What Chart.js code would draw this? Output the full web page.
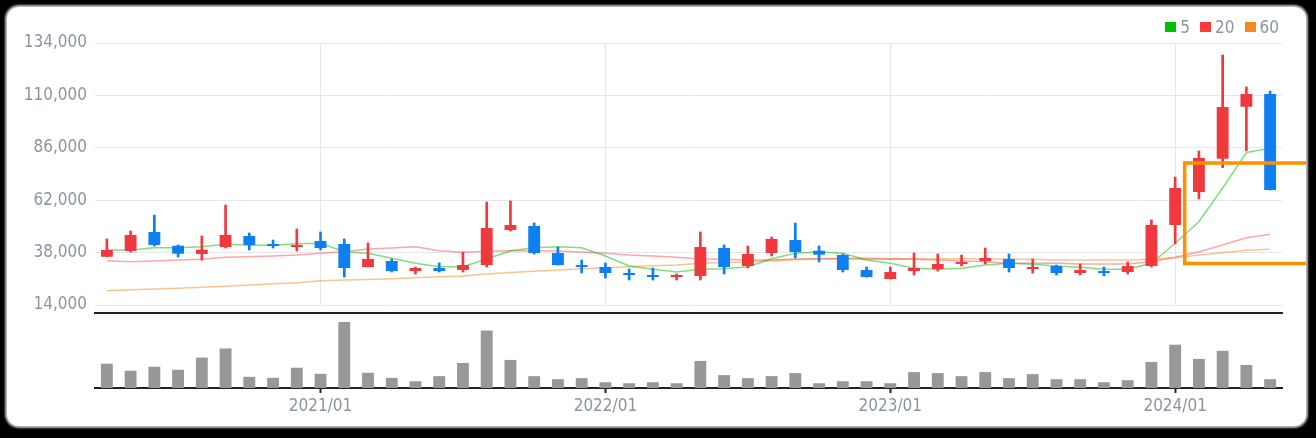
<!DOCTYPE html>
<html>
<head>
<meta charset="utf-8">
<script src="https://cdn.jsdelivr.net/npm/chart.js@4.4.1/dist/chart.umd.min.js"></script>
<style>
  html, body { margin: 0; padding: 0; background: #000; width: 1316px; height: 438px; overflow: hidden; }
  #card { position: absolute; left: 7px; top: 7px; width: 1299px; height: 419px; background: #fff;
          border-radius: 12px; overflow: hidden; box-shadow: 0 0 2px 2px #bbb; }
  #priceCanvas { position: absolute; left: -7px; top: -7px; }
  #volumeCanvas { position: absolute; left: -7px; top: 293px; }
  #legend { position: absolute; right: 27px; top: 10px; height: 20px; display: flex; align-items: center;
            font: 17px 'DejaVu Sans Condensed', 'DejaVu Sans', sans-serif; color: #8b95a1; }
  #legend .item { display: flex; align-items: center; margin-left: 10px; }
  #legend .box { width: 11px; height: 10px; margin-right: 4px; }
</style>
</head>
<body>
<div id="card">
  <canvas id="priceCanvas" width="1316" height="324"></canvas>
  <canvas id="volumeCanvas" width="1316" height="126"></canvas>
  <div id="legend"></div>
</div>
<script>
// monthly candles, 2020/04 - 2024/05
const months = [
  '2020/04','2020/05','2020/06','2020/07','2020/08','2020/09','2020/10','2020/11','2020/12',
  '2021/01','2021/02','2021/03','2021/04','2021/05','2021/06','2021/07','2021/08','2021/09','2021/10','2021/11','2021/12',
  '2022/01','2022/02','2022/03','2022/04','2022/05','2022/06','2022/07','2022/08','2022/09','2022/10','2022/11','2022/12',
  '2023/01','2023/02','2023/03','2023/04','2023/05','2023/06','2023/07','2023/08','2023/09','2023/10','2023/11','2023/12',
  '2024/01','2024/02','2024/03','2024/04','2024/05'
];
const open = [36100, 38750, 47450, 41150, 37350, 40550, 45600, 41950, 40550, 43300,
  41950, 31400, 34150, 29550, 30950, 30050, 32300, 48350, 50200, 37800,
  32300, 31400, 28650, 27750, 26800, 27300, 40100, 31850, 37800, 43750,
  38850, 36900, 30050, 25900, 29550, 30500, 32800, 34150, 35050, 30500,
  31850, 28650, 29550, 29100, 31850, 50650, 65750, 81000, 104800, 110650];
const close = [39200, 46050, 41500, 37500, 39350, 46050, 41500, 41000, 41500, 40100,
  30950, 35050, 29550, 30950, 29550, 32300, 49250, 50650, 37800, 32300,
  31400, 28650, 27750, 26800, 27750, 40550, 31400, 37350, 44250, 38250,
  37050, 30050, 26800, 29100, 30950, 32800, 33700, 35550, 30950, 31400,
  28650, 30050, 28650, 31850, 50650, 67600, 81350, 104700, 110650, 66650];
const high = [44250, 47900, 55200, 41500, 45600, 59800, 47000, 43750, 48800, 47450,
  44250, 42400, 35050, 31400, 33250, 38250, 61150, 61650, 51550, 40550,
  34600, 33250, 30500, 30950, 28200, 47450, 41500, 41000, 45150, 51550,
  41000, 37350, 31400, 31400, 37800, 37350, 36900, 40100, 37350, 35050,
  32300, 32800, 31400, 33700, 52950, 72600, 84550, 128500, 113850, 112000];
const low = [36100, 38250, 41000, 36000, 34600, 40100, 39200, 40100, 38750, 39200,
  26800, 31400, 29100, 28200, 29100, 29100, 31400, 47900, 37350, 32300,
  28650, 26350, 25450, 25450, 25450, 25450, 28200, 30950, 36450, 35550,
  33700, 29100, 26800, 25900, 27750, 29550, 31850, 32800, 29100, 28650,
  27750, 27750, 27300, 28200, 31400, 41950, 62550, 76900, 84650, 66650];
// volume, thousand shares
const volume = [2400, 1700, 2100, 1800, 3000, 3900, 1100, 1000, 2000, 1400,
  6500, 1500, 1000, 670, 1170, 2470, 5670, 2770, 1170, 870,
  970, 570, 470, 570, 470, 2670, 1270, 970, 1170, 1470,
  470, 670, 670, 470, 1570, 1470, 1170, 1570, 970, 1370,
  870, 870, 570, 770, 2570, 4270, 2870, 3670, 2270, 870];
// moving averages
const ma5 = [39190, 39190, 40240, 40240, 40700, 41800, 41340, 41340, 42080, 42260,
  38410, 37680, 35390, 33100, 31540, 31540, 35070, 38870, 40240, 40700,
  40240, 36440, 31860, 30350, 29110, 30350, 30630, 31540, 35210, 37680,
  38410, 37680, 34610, 33100, 30810, 30350, 30810, 32320, 33100, 32640,
  31860, 31270, 30350, 30350, 33100, 42260, 52150, 67590, 83850, 85770];
const ma20 = [34290, 33830, 34150, 34610, 34930, 35850, 36120, 36440, 36900, 37680,
  38410, 39650, 40110, 40700, 38870, 38140, 38640, 38870, 38870, 38730,
  38270, 37680, 36900, 36440, 35850, 35210, 34930, 34610, 34610, 35070,
  35210, 35210, 34930, 35070, 34930, 34610, 34150, 33830, 33100, 33100,
  33100, 32780, 32780, 32780, 33830, 35850, 38410, 41480, 44820, 46380];
const ma60 = [20550, 20960, 21330, 21690, 22110, 22610, 23160, 23710, 24210, 25130,
  25450, 25720, 26050, 26500, 26920, 27280, 28200, 28890, 29480, 30030,
  30580, 31080, 31540, 31950, 32320, 33100, 33470, 33830, 34290, 34700,
  35070, 35300, 35530, 35210, 35210, 35210, 35210, 35070, 35070, 34930,
  34610, 34610, 34610, 34610, 34930, 35660, 36900, 37950, 39050, 39510];
const yTicks = [14000, 38000, 62000, 86000, 110000, 134000];
// highlighted range: from between 2024/01 and 2024/02 to the right edge
const highlightFrom = 45.4;
const highlightTop = 79000;
const highlightBottom = 33000;

const FONT = "'DejaVu Sans Condensed', 'DejaVu Sans', sans-serif";
const TEXT = '#8b95a1';
const GRID = '#e5e8eb';
const UP = '#ef393c';
const DOWN = '#0d7ff0';
Chart.defaults.font.family = FONT;
Chart.defaults.font.size = 17;

const isJan = i => months[i] && months[i].endsWith('/01');
const candleColor = ctx => close[ctx.dataIndex] >= open[ctx.dataIndex] ? UP : DOWN;

const highlightPlugin = {
  id: 'highlight',
  afterDraw(chart) {
    const { ctx, scales: { x, y } } = chart;
    const left = x.getPixelForValue(highlightFrom);
    const top = y.getPixelForValue(highlightTop);
    const bottom = y.getPixelForValue(highlightBottom);
    ctx.save();
    ctx.strokeStyle = '#ff9100';
    ctx.lineWidth = 3.5;
    ctx.beginPath();
    ctx.moveTo(chart.width + 10, top);
    ctx.lineTo(left, top);
    ctx.lineTo(left, bottom);
    ctx.lineTo(chart.width + 10, bottom);
    ctx.stroke();
    ctx.restore();
  }
};

const priceChart = new Chart(document.getElementById('priceCanvas'), {
  data: {
    labels: months,
    datasets: [
      { type: 'bar', label: 'body', data: months.map((m, i) => [open[i], close[i]]),
        backgroundColor: candleColor, barPercentage: 0.5, categoryPercentage: 1, grouped: false, order: 0 },
      { type: 'bar', label: 'wick', data: months.map((m, i) => [low[i], high[i]]),
        backgroundColor: candleColor, barThickness: 2, grouped: false, order: 1 },
      { type: 'line', label: '5', data: ma5, borderColor: 'rgba(0,192,0,0.5)', backgroundColor: '#00c000',
        borderWidth: 1.5, pointRadius: 0, tension: 0, order: 2 },
      { type: 'line', label: '20', data: ma20, borderColor: 'rgba(255,58,63,0.45)', backgroundColor: '#ff3a3f',
        borderWidth: 1.5, pointRadius: 0, tension: 0, order: 3 },
      { type: 'line', label: '60', data: ma60, borderColor: 'rgba(245,137,31,0.5)', backgroundColor: '#f5891f',
        borderWidth: 1.5, pointRadius: 0, tension: 0, order: 4 }
    ]
  },
  options: {
    responsive: false,
    animation: false,
    layout: { padding: { left: 0, right: 34, top: 43, bottom: 19 } },
    plugins: { tooltip: { enabled: false }, legend: { display: false } },
    scales: {
      x: {
        type: 'category',
        offset: true,
        grid: { offset: false, drawTicks: false, color: ctx => isJan(ctx.index) ? GRID : 'transparent' },
        ticks: { display: false, autoSkip: false },
        border: { display: false }
      },
      y: {
        min: yTicks[0],
        max: yTicks[yTicks.length - 1],
        afterBuildTicks: s => { s.ticks = yTicks.map(v => ({ value: v })); },
        afterFit: s => { s.width = 95; },
        grid: { color: GRID, drawTicks: false },
        border: { display: false },
        ticks: { padding: 8, color: TEXT, font: { size: 17 }, callback: v => v.toLocaleString('en-US') }
      }
    }
  },
  plugins: [highlightPlugin]
});

// legend for the moving average lines
const legend = document.getElementById('legend');
priceChart.data.datasets.filter(d => d.type === 'line').forEach(d => {
  const item = document.createElement('span');
  item.className = 'item';
  const box = document.createElement('span');
  box.className = 'box';
  box.style.background = d.backgroundColor;
  item.appendChild(box);
  item.appendChild(document.createTextNode(d.label));
  legend.appendChild(item);
});

new Chart(document.getElementById('volumeCanvas'), {
  type: 'bar',
  data: {
    labels: months,
    datasets: [
      { label: 'volume', data: volume, backgroundColor: '#989898', barPercentage: 0.5, categoryPercentage: 1 }
    ]
  },
  options: {
    responsive: false,
    animation: false,
    layout: { padding: { left: 95, right: 34, top: 13, bottom: 6.6 } },
    plugins: { legend: { display: false }, tooltip: { enabled: false } },
    scales: {
      x: {
        offset: true,
        grid: { offset: false, drawOnChartArea: false, drawTicks: true, tickLength: 5, tickWidth: 2,
                tickColor: ctx => isJan(ctx.index) ? '#222' : 'transparent' },
        border: { color: '#222', width: 2 },
        ticks: {
          autoSkip: false, maxRotation: 0, minRotation: 0, padding: 3, color: TEXT, font: { size: 17 },
          callback: (val, idx) => isJan(idx) ? months[idx] : ''
        }
      },
      x2: {
        type: 'category',
        position: 'top',
        offset: true,
        grid: { drawOnChartArea: false, drawTicks: false },
        ticks: { display: false },
        border: { color: '#222', width: 2 }
      },
      y: { display: false, min: 0, max: 7400 }
    }
  }
});
</script>
</body>
</html>
